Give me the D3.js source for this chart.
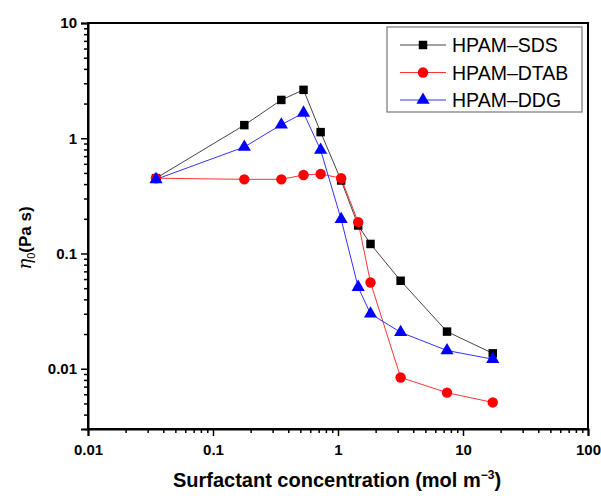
<!DOCTYPE html>
<html>
<head>
<meta charset="utf-8">
<script src="https://cdn.jsdelivr.net/npm/d3@7/dist/d3.min.js"></script>
<style>
  html, body { margin: 0; padding: 0; background: #fff; }
  svg { display: block; }
  text { font-family: "Liberation Sans", Arial, sans-serif; }
</style>
</head>
<body>
<svg id="chart" width="601" height="496"></svg>
<script>
// Surfactant concentration (mol m^-3), shared by all series
const concentration = [0.035, 0.178, 0.352, 0.53, 0.726, 1.06, 1.45, 1.82, 3.17, 7.45, 17.3];
// Zero-shear viscosity eta0 (Pa s)
const sds  = [0.45, 1.30, 2.15, 2.63, 1.13, 0.43, 0.175, 0.121, 0.058, 0.021, 0.0136];
const dtab = [0.45, 0.44, 0.44, 0.48, 0.49, 0.45, 0.187, 0.056, 0.0084, 0.0062, 0.0051];
const ddg  = [0.44, 0.84, 1.31, 1.66, 0.79, 0.198, 0.051, 0.030, 0.0207, 0.0144, 0.0121];
const seriesNames = ["HPAM\u2013SDS", "HPAM\u2013DTAB", "HPAM\u2013DDG"];
const xTickLabels = ["0.01", "0.1", "1", "10", "100"];
const yTickLabels = ["0.01", "0.1", "1", "10"];

const svg = d3.select("#chart");
const m = { left: 88, top: 23, right: 588, bottom: 429 };

const x = d3.scaleLog().domain([0.01, 100]).range([m.left, m.right]);
const y = d3.scaleLog().domain([0.003, 10]).range([m.bottom, m.top]);

// minor tick positions for log axes
function minorTicks(domain) {
  const out = [];
  const lo = Math.floor(Math.log10(domain[0])), hi = Math.ceil(Math.log10(domain[1]));
  for (let e = lo; e < hi; e++) {
    for (let k = 2; k <= 9; k++) {
      const v = k * Math.pow(10, e);
      if (v >= domain[0] && v <= domain[1]) out.push(v);
    }
  }
  return out;
}

// plot frame
svg.append("rect")
  .attr("x", m.left).attr("y", m.top)
  .attr("width", m.right - m.left).attr("height", m.bottom - m.top)
  .attr("fill", "none").attr("stroke", "#000").attr("stroke-width", 2);

// x axis
const xAxisMajor = d3.axisBottom(x).tickValues(xTickLabels.map(Number))
  .tickFormat((d, i) => xTickLabels[i]).tickSize(7).tickPadding(8);
const gx = svg.append("g").attr("transform", `translate(0,${m.bottom})`).call(xAxisMajor);
gx.select(".domain").attr("stroke-width", 2);
gx.selectAll(".tick line").attr("stroke-width", 1.5);
gx.selectAll(".tick text").attr("font-size", 15).attr("font-weight", "bold").attr("fill", "#000");
const gxm = svg.append("g").attr("transform", `translate(0,${m.bottom})`)
  .call(d3.axisBottom(x).tickValues(minorTicks(x.domain())).tickFormat("").tickSize(4));
gxm.select(".domain").remove();
gxm.selectAll(".tick line").attr("stroke-width", 1.5);

// y axis
const yAxisMajor = d3.axisLeft(y).tickValues(yTickLabels.map(Number))
  .tickFormat((d, i) => yTickLabels[i]).tickSize(7).tickPadding(4);
const gy = svg.append("g").attr("transform", `translate(${m.left},0)`).call(yAxisMajor);
gy.select(".domain").attr("stroke-width", 2);
gy.selectAll(".tick line").attr("stroke-width", 1.5);
gy.selectAll(".tick text").attr("font-size", 15).attr("font-weight", "bold").attr("fill", "#000");
const gym = svg.append("g").attr("transform", `translate(${m.left},0)`)
  .call(d3.axisLeft(y).tickValues(minorTicks(y.domain())).tickFormat("").tickSize(4));
gym.select(".domain").remove();
gym.selectAll(".tick line").attr("stroke-width", 1.5);

// axis titles
const xt = svg.append("text")
  .attr("x", 337).attr("y", 487)
  .attr("text-anchor", "middle").attr("font-size", 20).attr("font-weight", "bold");
xt.append("tspan").text("Surfactant concentration (mol m");
xt.append("tspan").attr("font-size", 12).attr("dy", -8).text("\u22123");
xt.append("tspan").attr("dy", 8).text(")");

const yt = svg.append("text")
  .attr("transform", `translate(31,238) rotate(-90)`)
  .attr("text-anchor", "middle").attr("font-size", 17).attr("font-weight", "bold");
yt.append("tspan").attr("font-style", "italic").attr("font-weight", "normal")
  .attr("font-family", "'DejaVu Serif', serif").attr("font-size", 18).text("\u03B7");
yt.append("tspan").attr("font-size", 11).attr("font-weight", "normal").attr("dy", 4).text("0");
yt.append("tspan").attr("dy", -4).text("(Pa s)");

// series
const series = [
  { name: seriesNames[0], values: sds,  line: "#444", fill: "#000", shape: d3.symbolSquare,   size: 72 },
  { name: seriesNames[1], values: dtab, line: "#f33", fill: "#f00", shape: d3.symbolCircle,   size: 85 },
  { name: seriesNames[2], values: ddg,  line: "#33f", fill: "#00f", shape: d3.symbolTriangle, size: 75 }
];

const line = d3.line().x(d => x(d[0])).y(d => y(d[1]));

series.forEach(s => {
  const pts = concentration.map((c, i) => [c, s.values[i]]);
  svg.append("path").datum(pts)
    .attr("d", line).attr("fill", "none").attr("stroke", s.line).attr("stroke-width", 1);
});
series.forEach(s => {
  const pts = concentration.map((c, i) => [c, s.values[i]]);
  svg.append("g").selectAll("path").data(pts).join("path")
    .attr("transform", d => `translate(${x(d[0])},${y(d[1])})`)
    .attr("d", d3.symbol().type(s.shape).size(s.size))
    .attr("fill", s.fill);
});

// legend
const lg = svg.append("g");
lg.append("rect").attr("x", 387).attr("y", 27).attr("width", 195).attr("height", 85)
  .attr("fill", "#fff").attr("stroke", "#777").attr("stroke-width", 1.2);
series.forEach((s, i) => {
  const cy = 45 + i * 27.5;
  lg.append("line").attr("x1", 400).attr("x2", 446).attr("y1", cy).attr("y2", cy)
    .attr("stroke", s.line).attr("stroke-width", 1);
  lg.append("path").attr("transform", `translate(423,${cy})`)
    .attr("d", d3.symbol().type(s.shape).size(s.size)).attr("fill", s.fill);
  lg.append("text").attr("x", 452).attr("y", cy + 7)
    .attr("font-size", 19.5).attr("fill", "#000").text(s.name);
});
</script>
</body>
</html>
